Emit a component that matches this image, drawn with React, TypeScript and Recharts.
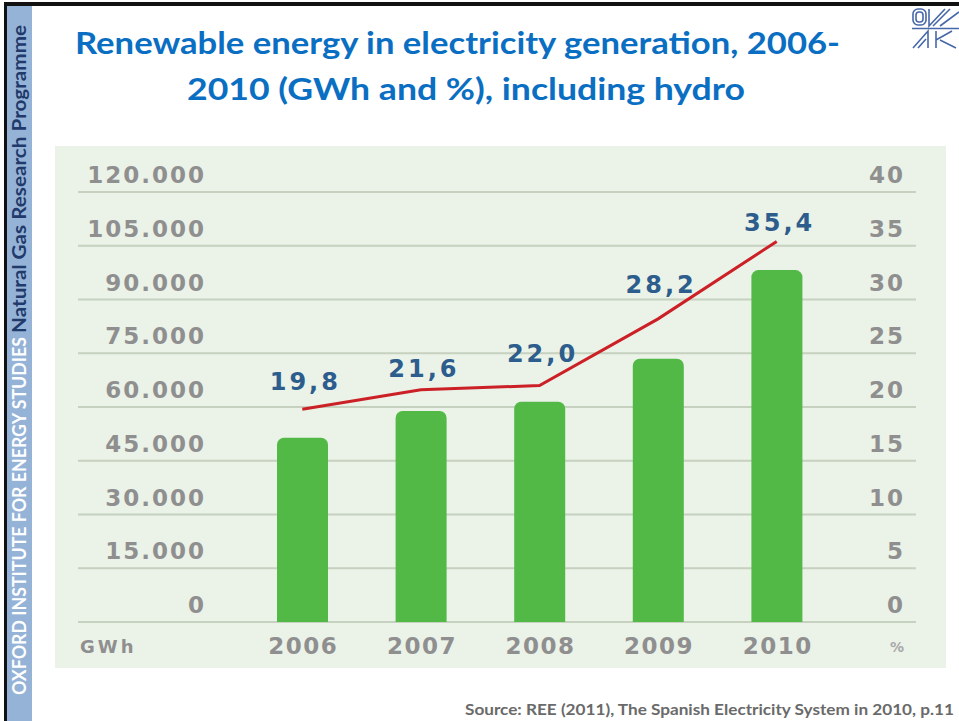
import React from "react";
import {
  ComposedChart,
  Bar,
  Line,
  XAxis,
  YAxis,
  CartesianGrid,
  LabelList,
} from "recharts";

// data
const years = ["2006", "2007", "2008", "2009", "2010"];
const gwhValues = [51400, 58900, 61500, 73500, 98200];
const pctValues = [19.8, 21.6, 22.0, 28.2, 35.4];
const pctLabels = ["19,8", "21,6", "22,0", "28,2", "35,4"];
const gwhTicks = [0, 15000, 30000, 45000, 60000, 75000, 90000, 105000, 120000];
const pctTicks = [0, 5, 10, 15, 20, 25, 30, 35, 40];

const data = years.map((year, i) => ({
  year,
  gwh: gwhValues[i],
  pct: pctValues[i],
  label: pctLabels[i],
}));

const AXIS_FONT = "DejaVu Sans";
const TICK_GREY = "#8f8f8f";
const SLIDE_FONT = "Lato, 'Open Sans', sans-serif";

// 120000 -> "120.000"
function fmtThousands(v: number): string {
  return String(v).replace(/\B(?=(\d{3})+(?!\d))/g, ".");
}

// plot area runs x 78..916, y 192..622
const PLOT_LEFT = 78;
const PLOT_RIGHT = 916;

function GwhTick(props: any) {
  const { y, payload } = props;
  return (
    <text
      x={PLOT_LEFT + 128}
      y={y - 9}
      textAnchor="end"
      fill={TICK_GREY}
      fontSize={23}
      fontWeight="bold"
      letterSpacing={2}
      fontFamily={AXIS_FONT}
    >
      {fmtThousands(payload.value)}
    </text>
  );
}

function PctTick(props: any) {
  const { y, payload } = props;
  return (
    <text
      x={PLOT_RIGHT - 11}
      y={y - 9}
      textAnchor="end"
      fill={TICK_GREY}
      fontSize={23}
      fontWeight="bold"
      letterSpacing={2}
      fontFamily={AXIS_FONT}
    >
      {payload.value}
    </text>
  );
}

function YearTick(props: any) {
  const { x, y, payload } = props;
  return (
    <text
      x={x + 1}
      y={y + 32}
      textAnchor="middle"
      fill={TICK_GREY}
      fontSize={23}
      fontWeight="bold"
      letterSpacing={1.5}
      fontFamily={AXIS_FONT}
    >
      {payload.value}
    </text>
  );
}

// labels above the red line are not all the same distance up in the source
const LABEL_LIFT = [28, 22, 33, 35, 19];

function PctLabel(props: any) {
  const { x, y, value, index } = props;
  return (
    <text
      x={x + 3}
      y={y - LABEL_LIFT[index] + 9}
      textAnchor="middle"
      fill="#2c5d8c"
      fontSize={24}
      fontWeight="bold"
      letterSpacing={3}
      fontFamily={AXIS_FONT}
    >
      {value}
    </text>
  );
}

function Backdrop() {
  return (
    <svg
      width={959}
      height={721}
      style={{ position: "absolute", left: 0, top: 0 }}
    >
      <rect x={0} y={0} width={959} height={721} fill="#ffffff" />
      {/* frame + side strip */}
      <rect x={4} y={2} width={955} height={4} fill="#111" />
      <rect x={4} y={2} width={3} height={719} fill="#111" />
      <rect x={7} y={6} width={25} height={715} fill="#95b3d7" />
      <text
        transform="rotate(-90)"
        x={-695}
        y={25.5}
        fontFamily={SLIDE_FONT}
        fontWeight="bold"
        fontSize={18}
        fill="#ffffff"
        textLength={358}
        lengthAdjust="spacingAndGlyphs"
      >
        OXFORD INSTITUTE FOR ENERGY STUDIES
      </text>
      <text
        transform="rotate(-90)"
        x={-333}
        y={25.5}
        fontFamily={SLIDE_FONT}
        fontWeight="bold"
        fontSize={18}
        fill="#1f3a6b"
        textLength={308}
        lengthAdjust="spacingAndGlyphs"
      >
        Natural Gas Research Programme
      </text>

      {/* title */}
      <text
        x={75}
        y={54}
        fontFamily={SLIDE_FONT}
        fontWeight="bold"
        fontSize={30}
        fill="#0a6fc2"
        textLength={765}
        lengthAdjust="spacingAndGlyphs"
      >
        Renewable energy in electricity generation, 2006-
      </text>
      <text
        x={187}
        y={100}
        fontFamily={SLIDE_FONT}
        fontWeight="bold"
        fontSize={30}
        fill="#0a6fc2"
        textLength={558}
        lengthAdjust="spacingAndGlyphs"
      >
        2010 (GWh and %), including hydro
      </text>

      {/* logo, roughly */}
      <g fill="none" stroke="#4668a8" strokeWidth={1.6}>
        <rect x={913} y={9} width={13} height={16} rx={5} />
        <rect x={916} y={12} width={7} height={10} rx={3} />
        <path d="M929 9 L929 26 L945 9 M933 26 L950 9 M940 26 L959 12" />
        <path d="M912 28.5 L959 28.5" />
        <path d="M913 48 L928 31 L928 48 M918 48 L926 39 M936 31 L936 48 M936 40 L952 31 M940 40 L956 48" />
      </g>

      {/* chart panel */}
      <rect x={55} y={146} width={891} height={522} fill="#ebf2e8" />
      <text
        x={80}
        y={653}
        fontFamily={AXIS_FONT}
        fontWeight="bold"
        fontSize={18}
        letterSpacing={3}
        fill={TICK_GREY}
      >
        GWh
      </text>
      <text
        x={904}
        y={652}
        textAnchor="end"
        fontFamily={AXIS_FONT}
        fontWeight="bold"
        fontSize={14}
        fill="#a8a8a8"
      >
        %
      </text>

      <text
        x={954}
        y={715}
        textAnchor="end"
        fontFamily={SLIDE_FONT}
        fontWeight="bold"
        fontSize={16}
        fill="#6a6a6a"
        textLength={489}
        lengthAdjust="spacingAndGlyphs"
      >
        Source: REE (2011), The Spanish Electricity System in 2010, p.11
      </text>
    </svg>
  );
}

export default function App() {
  return (
    <div
      style={{
        position: "absolute",
        left: 0,
        top: 0,
        width: 959,
        height: 721,
        overflow: "hidden",
      }}
    >
      <Backdrop />
      <div style={{ position: "absolute", left: 0, top: 0 }}>
        <ComposedChart
          width={959}
          height={721}
          data={data}
          margin={{ top: 192, right: 42, bottom: 59, left: 77 }}
        >
          <CartesianGrid
            yAxisId="gwh"
            vertical={false}
            stroke="#c6d1bf"
            strokeWidth={2}
          />
          <XAxis
            dataKey="year"
            height={40}
            padding={{ left: 165, right: 80 }}
            axisLine={false}
            tickLine={false}
            tickSize={0}
            tickMargin={0}
            interval={0}
            tick={<YearTick />}
          />
          <YAxis
            yAxisId="gwh"
            orientation="left"
            width={1}
            domain={[0, 120000]}
            ticks={gwhTicks}
            axisLine={false}
            tickLine={false}
            tickSize={0}
            tickMargin={0}
            interval={0}
            tick={<GwhTick />}
          />
          <YAxis
            yAxisId="pct"
            orientation="right"
            width={1}
            domain={[0, 40]}
            ticks={pctTicks}
            axisLine={false}
            tickLine={false}
            tickSize={0}
            tickMargin={0}
            interval={0}
            tick={<PctTick />}
          />
          <Bar
            yAxisId="gwh"
            dataKey="gwh"
            fill="#52b947"
            barSize={51}
            radius={[7, 7, 0, 0]}
            isAnimationActive={false}
          />
          <Line
            yAxisId="pct"
            dataKey="pct"
            type="linear"
            stroke="#cc2027"
            strokeWidth={3}
            dot={false}
            activeDot={false}
            isAnimationActive={false}
          >
            <LabelList dataKey="label" content={<PctLabel />} />
          </Line>
        </ComposedChart>
      </div>
    </div>
  );
}
